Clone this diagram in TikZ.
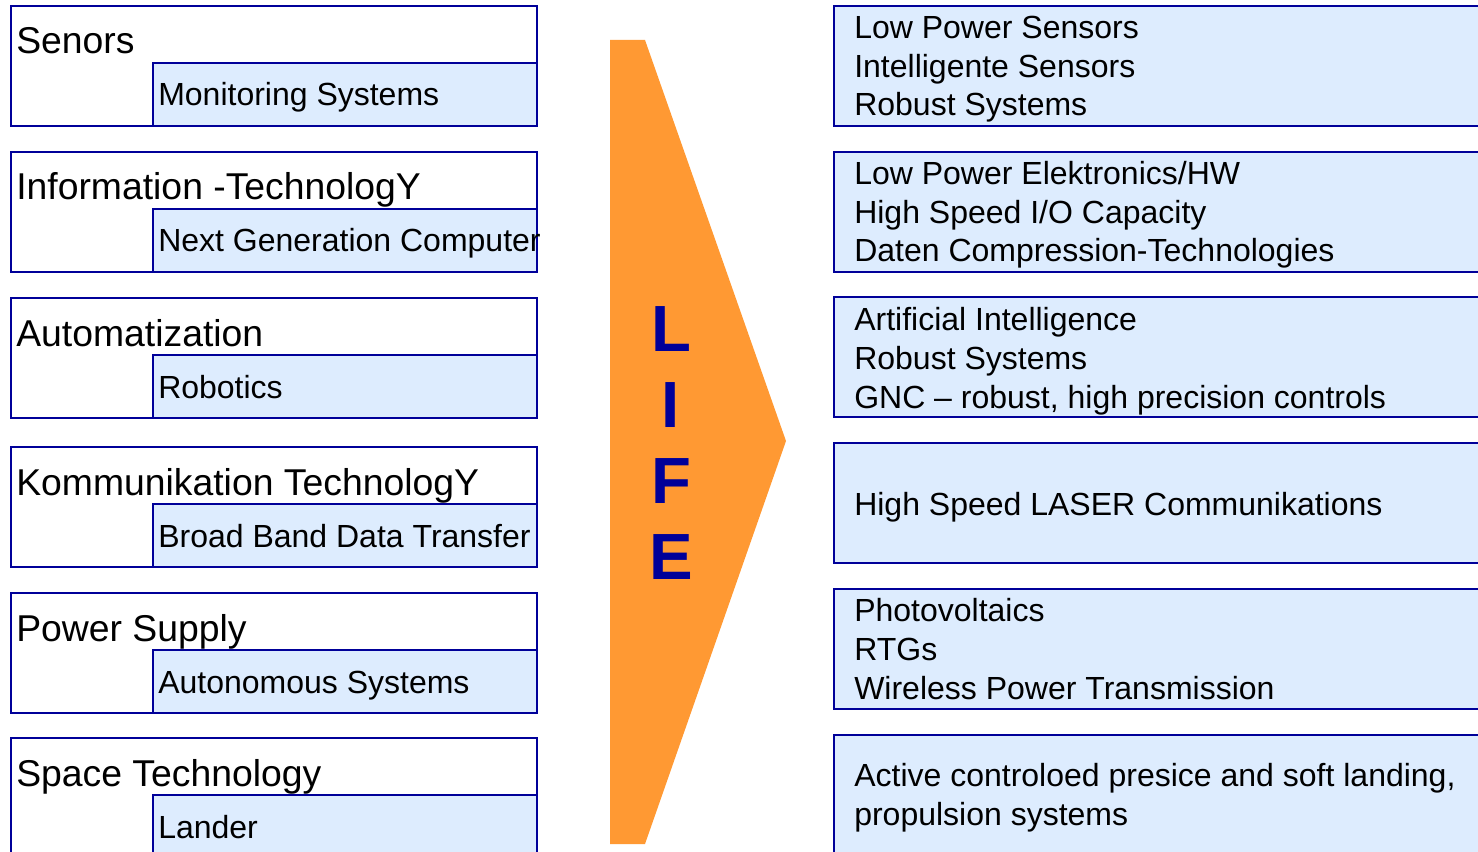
\documentclass[tikz,border=0pt]{standalone}
\usepackage{fontspec}
\setmainfont{Liberation Sans}
\usepackage{xcolor}
\usepackage{tikz}
\usetikzlibrary{positioning}
\definecolor{cadre}{RGB}{0,0,153}
\definecolor{fond}{RGB}{221,236,254}
\definecolor{fleche}{RGB}{255,153,51}
\tikzset{
  trait/.style={cadre,line width=1.5pt},
  titre/.style={anchor=base west,inner sep=0pt,font=\fontsize{28}{33}\selectfont},
  texte/.style={anchor=base west,inner sep=0pt,align=left,font=\fontsize{24}{28.9}\selectfont},
  lettre/.style={anchor=base,inner sep=0pt,text=cadre,font=\fontsize{49}{49}\bfseries\selectfont}}
% left column: white frame, light blue inset, title and subtitle
\newcommand{\domaine}[4]{%
  \draw[trait](11,#2) rectangle (537,#2+120);
  \draw[trait,fill=fond](153,#2+57) rectangle (537,#2+120);
  \node[titre] (#1) at (16,#2+48) {#3};
  \node[titre,font=\fontsize{24}{28.9}\selectfont] (#1sub) at (158,#2+100) {#4};}
% right column: open light blue box, text placed by its last baseline
\newcommand{\besoin}[4]{%
  \draw[trait,fill=fond](834,#2) rectangle (1490,#2+120);
  \node[texte] (#1) at (854,#3) {#4};}

\begin{document}
\begin{tikzpicture}[x=0.75pt,y=-0.75pt]
      \useasboundingbox (0,0) rectangle (1478,852);
      \clip (0,0) rectangle (1478,852);
      \domaine{senors}{6}{Senors}{Monitoring Systems}
      \domaine{info}{152}{Information -TechnologY}{Next Generation Computer}
      \domaine{auto}{298}{Automatization}{Robotics}
      \domaine{komm}{447}{Kommunikation TechnologY}{Broad Band Data Transfer}
      \domaine{power}{593}{Power Supply}{Autonomous Systems}
      \domaine{space}{738}{Space Technology}{Lander}
      \fill[fleche](610,40)--(645,40)--(786,441)--(645,844)--(610,844)--cycle;
      \foreach \c [count=\k] in {L,I,F,E}
        \node[lettre] (lettre\k) at (671,351+76.3*\k-76.3) {\c};
      \besoin{capteurs}{6}{116}{Low Power Sensors\\Intelligente Sensors\\Robust Systems}
      \besoin{elec}{152}{262}{Low Power Elektronics/HW\\High Speed I/O Capacity\\Daten Compression-Technologies}
      \besoin{ia}{297}{408}{Artificial Intelligence\\Robust Systems\\GNC -- robust, high precision controls}
      \besoin{laser}{443}{515}{High Speed LASER Communikations}
      \besoin{energie}{589}{699}{Photovoltaics\\RTGs\\Wireless Power Transmission}
      \besoin{atterro}{735}{825}{Active controloed presice and soft landing,\\propulsion systems}
    \end{tikzpicture}
\end{document}
